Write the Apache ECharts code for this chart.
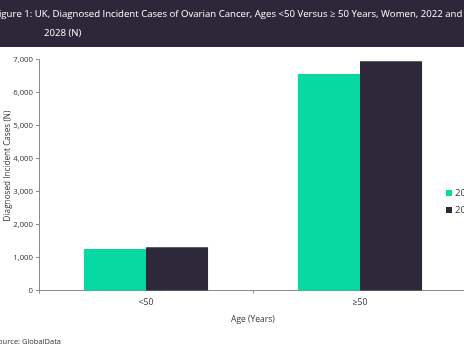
<!DOCTYPE html>
<html><head><meta charset="utf-8">
<script src="https://cdn.jsdelivr.net/npm/echarts@6/dist/echarts.min.js"></script>
<style>html,body{margin:0;padding:0;background:#fff}#c{width:464px;height:348px}</style>
</head><body><div id="c"></div>
<script>
const categories = ['<50', '≥50'];
const series2022 = [1260, 6560];
const series2028 = [1310, 6950];
const seriesNames = ['2022', '2028'];
const yTicks = [0, 1000, 2000, 3000, 4000, 5000, 6000, 7000];

const chart = echarts.init(document.getElementById('c'), null, {renderer: 'canvas'});
const font = 'Open Sans, Liberation Sans, sans-serif';
chart.setOption({
  animation: false,
  backgroundColor: '#ffffff',
  graphic: [{type: 'rect', left: 0, top: 0, shape: {width: 464, height: 47}, style: {fill: '#2c2739'}, z: -1}],
  title: [
    {text: 'Figure 1: UK, Diagnosed Incident Cases of Ovarian Cancer, Ages <50 Versus ≥ 50 Years, Women, 2022 and', left: -11, top: 4, textStyle: {color: '#ffffff', fontSize: 9.6, fontWeight: 'normal', fontFamily: font}},
    {text: '2028 (N)', left: 39, top: 23, textStyle: {color: '#ffffff', fontSize: 9.6, fontWeight: 'normal', fontFamily: font}},
    {text: 'Source: GlobalData', left: -11, top: 333, textStyle: {color: '#333333', fontSize: 7.5, fontWeight: 'normal', fontFamily: font}}
  ],
  legend: {
    orient: 'vertical', left: 441, top: 183, itemWidth: 6, itemHeight: 6, itemGap: 7,
    icon: 'rect', textStyle: {fontSize: 9.5, color: '#333', fontFamily: font, padding: [0,0,0,-2]},
    data: seriesNames
  },
  grid: {left: 39, right: -3, top: 59.5, bottom: 57.5, containLabel: false, outerBoundsMode: 'none'},
  xAxis: {
    type: 'category', data: categories, name: 'Age (Years)', nameLocation: 'middle', nameGap: 25,
    nameTextStyle: {fontSize: 8.5, color: '#333', fontFamily: font},
    axisLine: {lineStyle: {color: '#8a8a8a'}},
    axisTick: {show: true, alignWithLabel: false, length: 3, inside: false, lineStyle: {color: '#8a8a8a'}},
    axisLabel: {fontSize: 8.5, color: '#333', margin: 8, fontFamily: font}
  },
  yAxis: {
    type: 'value', min: 0, max: 7000, interval: 1000,
    name: 'Diagnosed Incident Cases (N)', nameLocation: 'middle', nameGap: 27, nameMoveOverlap: false,
    nameTextStyle: {fontSize: 8.2, color: '#333', fontFamily: font, padding: [0, 0, 0, 18]},
    axisLine: {show: true, lineStyle: {color: '#8a8a8a'}},
    axisTick: {show: true, length: 3, lineStyle: {color: '#8a8a8a'}},
    splitLine: {show: false},
    axisLabel: {fontSize: 7.8, color: '#333', margin: 6, fontFamily: font,
      formatter: v => yTicks.includes(v) ? v.toLocaleString('en-US') : ''}
  },
  series: [
    {name: seriesNames[0], type: 'bar', data: series2022, barGap: '0%', barCategoryGap: '42%', itemStyle: {color: '#06d9a1'}},
    {name: seriesNames[1], type: 'bar', data: series2028, barGap: '0%', barCategoryGap: '42%', itemStyle: {color: '#2d283a'}}
  ]
});
</script></body></html>
